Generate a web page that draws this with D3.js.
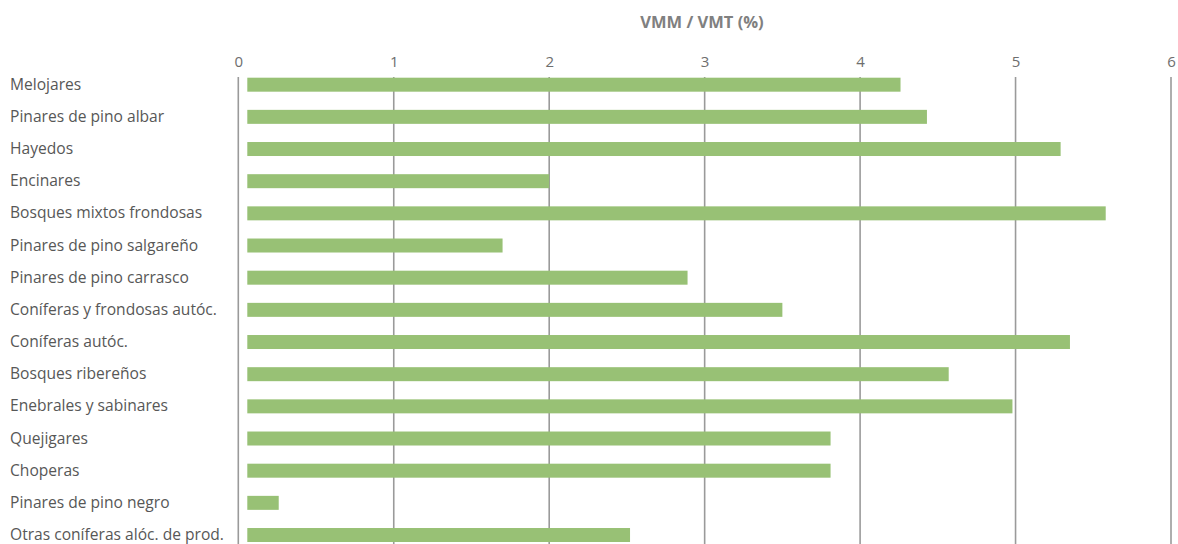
<!DOCTYPE html>
<html>
<head>
<meta charset="utf-8">
<script src="https://cdn.jsdelivr.net/npm/d3@7"></script>
<style>
  html, body { margin: 0; padding: 0; background: #fff; }
  svg { display: block; }
</style>
</head>
<body>
<svg id="chart" width="1178" height="544"></svg>
<script>
const categories = [
  "Melojares",
  "Pinares de pino albar",
  "Hayedos",
  "Encinares",
  "Bosques mixtos frondosas",
  "Pinares de pino salgareño",
  "Pinares de pino carrasco",
  "Coníferas y frondosas autóc.",
  "Coníferas autóc.",
  "Bosques ribereños",
  "Enebrales y sabinares",
  "Quejigares",
  "Choperas",
  "Pinares de pino negro",
  "Otras coníferas alóc. de prod."
];
const values = [4.26, 4.43, 5.29, 2.00, 5.58, 1.70, 2.89, 3.50, 5.35, 4.57, 4.98, 3.81, 3.81, 0.26, 2.52];
const tickValues = [0, 1, 2, 3, 4, 5, 6];
const axisTitle = "VMM / VMT (%)";

const W = 1178, H = 544;
const font = "'Open Sans', 'Noto Sans', sans-serif";
const svg = d3.select("#chart");

const x = d3.scaleLinear().domain([0, 6]).range([238.3, 1171]);
const y = d3.scaleBand().domain(categories).range([68.6, 551.1]).paddingInner(0.565).paddingOuter(0.2825);
const barInset = 9;

// gridlines
svg.append("g").selectAll("line").data(tickValues).join("line")
  .attr("x1", d => x(d)).attr("x2", d => x(d))
  .attr("y1", 77).attr("y2", H + 5)
  .attr("stroke", "#9a9a9a").attr("stroke-width", 1.6);

// bars
svg.append("g").selectAll("rect").data(values).join("rect")
  .attr("x", x(0) + barInset)
  .attr("y", (d, i) => y(categories[i]))
  .attr("width", d => Math.max(0, x(d) - x(0) - barInset))
  .attr("height", y.bandwidth())
  .attr("fill", "#98c175");

// top axis tick labels
const axis = d3.axisTop(x).tickValues(tickValues).tickFormat(d3.format("d")).tickSize(0);
const gAxis = svg.append("g").attr("transform", "translate(0,67)").call(axis);
gAxis.select(".domain").remove();
gAxis.selectAll("text")
  .attr("font-family", font).attr("font-size", 15)
  .attr("fill", "#6e6e6e").attr("dy", 0).attr("y", 0);

// category labels
svg.append("g").selectAll("text").data(categories).join("text")
  .attr("x", 10)
  .attr("y", d => y(d) + y.bandwidth() / 2)
  .attr("dy", "0.32em")
  .attr("font-family", font).attr("font-size", 15.6)
  .attr("fill", "#575757")
  .text(d => d);

// axis title
svg.append("text")
  .attr("x", 702).attr("y", 28)
  .attr("text-anchor", "middle")
  .attr("font-family", font).attr("font-size", 16.5).attr("font-weight", "bold")
  .attr("fill", "#808080")
  .text(axisTitle);
</script>
</body>
</html>
